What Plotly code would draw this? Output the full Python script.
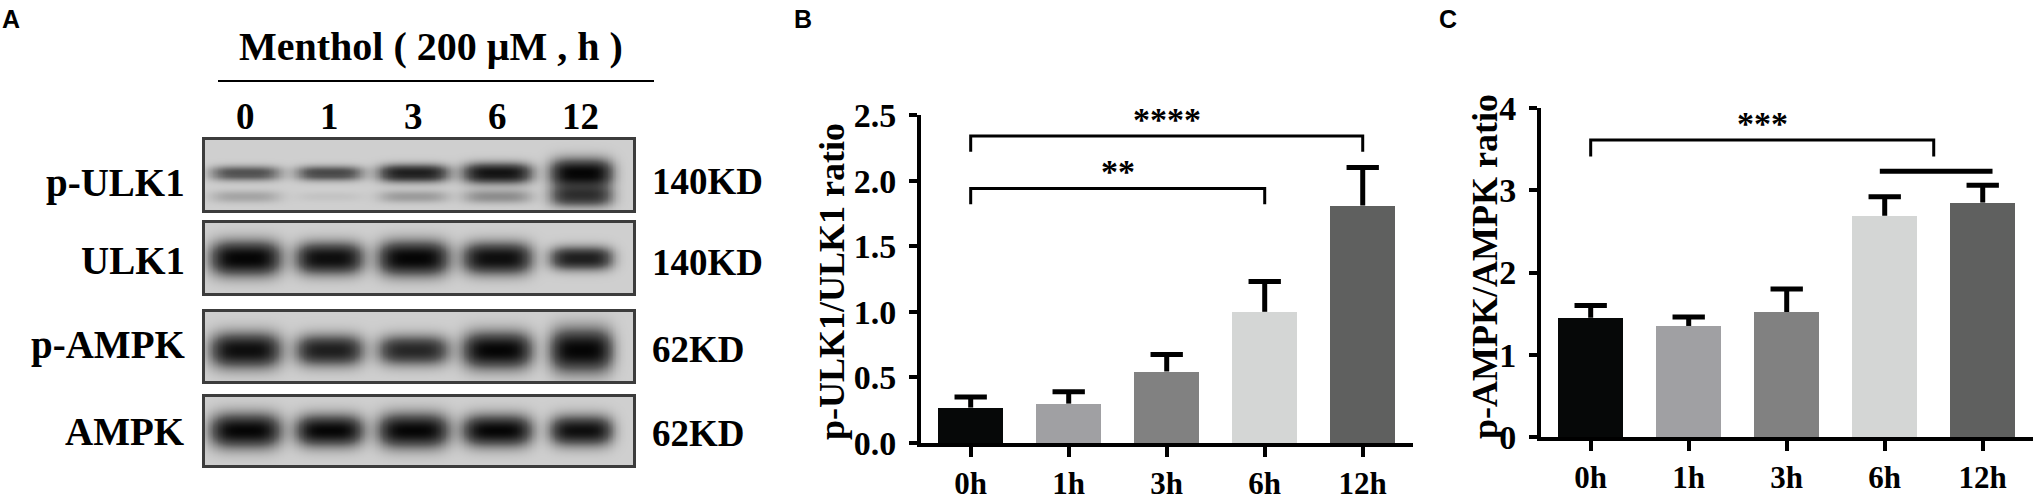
import numpy as np
import plotly.graph_objects as go

W, H = 2033, 496

# --- data -------------------------------------------------------------
groups = ["0h", "1h", "3h", "6h", "12h"]
bar_colors = ["#060808", "#a0a0a3", "#818181", "#d4d6d5", "#5f605f"]

ulk_ratio = [0.27, 0.30, 0.545, 1.0, 1.81]
ulk_sem = [0.08, 0.09, 0.13, 0.23, 0.29]

ampk_ratio = [1.45, 1.35, 1.52, 2.69, 2.85]
ampk_sem = [0.15, 0.11, 0.28, 0.23, 0.21]

# comparisons: (start group, end group, bracket height, tip bottom, label)
ulk_brackets = [(0, 3, 1.94, 1.82, "**"), (0, 4, 2.34, 2.22, "****")]
ampk_brackets = [(0, 3.5, 3.61, 3.41, "***")]
ampk_bar_line = [(2.95, 4.1, 3.23)]

# western blot (panel A)
lanes = ["0", "1", "3", "6", "12"]
blot_rows = ["p-ULK1", "ULK1", "p-AMPK", "AMPK"]
blot_kd = ["140KD", "140KD", "62KD", "62KD"]
# band darkness per lane
pulk1_main = [0.55, 0.6, 0.85, 0.92, 1.0]
pulk1_low = [0.18, 0.05, 0.22, 0.28, 0.7]
ulk1_band = [1.0, 0.95, 1.0, 0.95, 0.85]
pampk_band = [0.95, 0.85, 0.8, 1.0, 1.0]
ampk_band = [1.0, 1.0, 1.0, 1.0, 0.95]
# band thickness per lane (fraction of strip height)
pulk1_main_th = [0.1, 0.1, 0.12, 0.14, 0.2]
pulk1_low_th = [0.09, 0.07, 0.09, 0.1, 0.15]
ulk1_th = [0.24, 0.22, 0.24, 0.22, 0.16]
pampk_th = [0.25, 0.22, 0.21, 0.26, 0.31]
ampk_th = [0.25, 0.23, 0.25, 0.23, 0.22]
lane_halfwidth = [0.42, 0.4, 0.42, 0.41, 0.37]


def px(x):
    return x / W


def py(y):
    return 1 - y / H


SERIF = "Liberation Serif"
fig = go.Figure()


def label(x, y, text, size, xanchor="center", yanchor="middle", **kw):
    fig.add_annotation(x=x, y=y, text=text, showarrow=False, xanchor=xanchor, yanchor=yanchor,
                       font=dict(family=kw.pop("family", SERIF), size=size, color="black"), **kw)


# --- bar panels -------------------------------------------------------
def add_bar_panel(n, means, sems, brackets, ytitle, yrange, dtick, tickfmt, xdom, ydom, title_xy):
    xa, ya = ("x", "y") if n == 1 else (f"x{n}", f"y{n}")
    idx = list(range(len(groups)))
    fig.add_trace(go.Bar(
        x=idx, y=means, width=0.66,
        marker=dict(color=bar_colors, line=dict(width=0)),
        xaxis=xa, yaxis=ya, showlegend=False, hoverinfo="skip",
    ))
    # one-sided SEM bars (stem + cap)
    ex, ey = [], []
    for i, (m, s) in enumerate(zip(means, sems)):
        ex += [i, i, None, i - 0.165, i + 0.165, None]
        ey += [m, m + s, None, m + s, m + s, None]
    fig.add_trace(go.Scatter(x=ex, y=ey, mode="lines", line=dict(color="black", width=5),
                             xaxis=xa, yaxis=ya, showlegend=False, hoverinfo="skip",
                             cliponaxis=False))
    for s, e, h, tip, lab in brackets:
        fig.add_trace(go.Scatter(
            x=[s, s, e, e], y=[tip, h, h, tip], mode="lines",
            line=dict(color="black", width=3), xaxis=xa, yaxis=ya,
            showlegend=False, hoverinfo="skip", cliponaxis=False,
        ))
        label((s + e) / 2, h, f"<b>{lab}</b>", 34, yanchor="bottom", xref=xa, yref=ya, yshift=-4)
    axis_common = dict(showline=True, linecolor="black", linewidth=4, ticks="outside",
                       tickcolor="black", tickwidth=4, showgrid=False, zeroline=False,
                       automargin=False)
    fig.layout[("xaxis" if n == 1 else f"xaxis{n}")] = dict(
        domain=xdom, range=[-0.507, 4.513], anchor=ya,
        tickvals=idx, ticktext=groups, ticklen=10, ticklabelstandoff=0,
        tickfont=dict(family=SERIF, size=31, color="black", weight="bold"), **axis_common)
    fig.layout[("yaxis" if n == 1 else f"yaxis{n}")] = dict(
        domain=ydom, range=yrange, dtick=dtick, tickformat=tickfmt, anchor=xa, ticklen=8,
        ticklabelstandoff=6, tickfont=dict(family=SERIF, size=34, color="black", weight="bold"),
        **axis_common)
    label(px(title_xy[0]), py(title_xy[1]), f"<b>{ytitle}</b>", 36, textangle=-90,
          xref="paper", yref="paper")


add_bar_panel(1, ulk_ratio, ulk_sem, ulk_brackets, "p-ULK1/ULK1 ratio", [0, 2.5], 0.5, ".1f",
              [px(921), px(1413)], [py(443), py(115)], (832, 282))
add_bar_panel(2, ampk_ratio, ampk_sem, ampk_brackets, "p-AMPK/AMPK ratio", [0, 4], 1, "d",
              [px(1541), 1.0], [py(437), py(108)], (1485, 267))
for s, e, h in ampk_bar_line:
    fig.add_trace(go.Scatter(x=[s, e], y=[h, h], mode="lines", line=dict(color="black", width=5),
                             xaxis="x2", yaxis="y2", showlegend=False, hoverinfo="skip",
                             cliponaxis=False))

# --- western blot strips ---------------------------------------------
xs = np.linspace(-0.48, 4.62, 260)
ys = np.linspace(0, 1, 70)
XX, YY = np.meshgrid(xs, ys)


def strip(bands):
    z = np.zeros_like(XX)
    for inten, yc, th in bands:
        for i in range(len(lanes)):
            prof_x = np.exp(-np.abs((XX - i) / lane_halfwidth[i]) ** 4)
            prof_y = np.exp(-np.abs((YY - yc) / th[i]) ** 2.2)
            z += inten[i] * prof_x * prof_y
    return np.clip(z, 0, 1)


strips = [
    strip([(pulk1_main, 0.53, pulk1_main_th), (pulk1_low, 0.2, pulk1_low_th)]),
    strip([(ulk1_band, 0.5, ulk1_th)]),
    strip([(pampk_band, 0.45, pampk_th)]),
    strip([(ampk_band, 0.51, ampk_th)]),
]
strip_px = [(140, 210), (223, 293), (312, 381), (397, 465)]
row_label_y = [183, 260, 345, 431]
kd_label_y = [181, 262, 349, 433]

for k, (z, (top, bot)) in enumerate(zip(strips, strip_px)):
    n = k + 3
    fig.add_trace(go.Heatmap(
        x=xs, y=ys, z=z, zmin=0, zmax=1, zsmooth="best", showscale=False,
        colorscale=[[0, "#cfcfcf"], [0.5, "#5a5a5a"], [1, "#050505"]],
        xaxis=f"x{n}", yaxis=f"y{n}", hoverinfo="skip",
    ))
    frame = dict(showline=True, mirror=True, linecolor="#3c3c3c", linewidth=3, automargin=False,
                 showticklabels=False, ticks="", showgrid=False, zeroline=False)
    fig.layout[f"xaxis{n}"] = dict(domain=[px(205), px(633)], range=[-0.48, 4.62],
                                   anchor=f"y{n}", **frame)
    fig.layout[f"yaxis{n}"] = dict(domain=[py(bot), py(top)], range=[0, 1],
                                   anchor=f"x{n}", **frame)
    label(px(187), py(row_label_y[k]), f"<b>{blot_rows[k]}</b>", 39, xanchor="right",
          xref="paper", yref="paper")
    label(px(650), py(kd_label_y[k]), f"<b>{blot_kd[k]}</b>", 37, xanchor="left",
          xref="paper", yref="paper")

# lane labels above the blots
for i, lab in enumerate(lanes):
    label(i, py(116), f"<b>{lab}</b>", 37, xref="x3", yref="paper")

label(px(431), py(47), "<b>Menthol ( 200 μM , h )</b>", 40, xref="paper", yref="paper")
fig.add_shape(type="line", xref="paper", yref="paper", x0=px(218), x1=px(654),
              y0=py(81), y1=py(81), line=dict(color="black", width=2))

# panel letters
for letter, lx in [("A", 0), ("B", 792), ("C", 1437)]:
    label(px(lx), py(3), f"<b>{letter}</b>", 25, xanchor="left", yanchor="top",
          family="Liberation Sans", xref="paper", yref="paper")

fig.update_layout(width=W, height=H, margin=dict(l=0, r=0, t=0, b=0),
                  paper_bgcolor="white", plot_bgcolor="rgba(0,0,0,0)", bargap=0)
fig.write_html("out.html", config={"displayModeBar": False},
               post_script="document.body.style.margin='0';")
